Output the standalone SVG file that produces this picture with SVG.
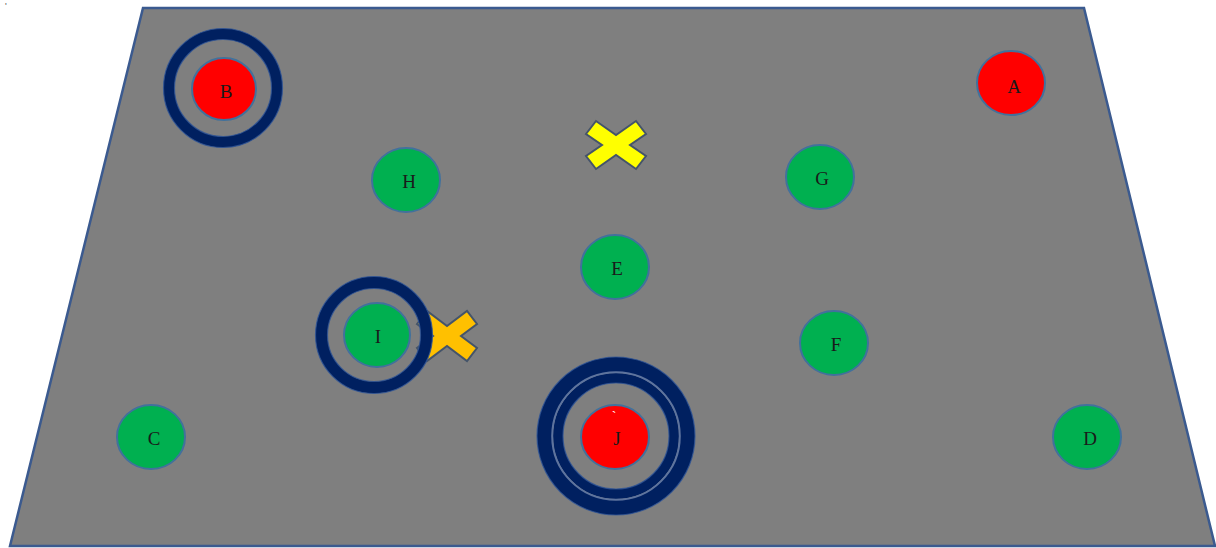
<svg xmlns="http://www.w3.org/2000/svg" width="1216" height="548" viewBox="0 0 1216 548">
<style>
.node{stroke:#41719C;stroke-width:2}
.g{fill:#00B050}
.r{fill:#FF0000}
.lbl{font-family:"Liberation Serif","Times New Roman",serif;font-size:19px;fill:#1a1a1a;text-anchor:middle}
.ring{fill:none;stroke:#002060}
.ringedge{fill:none;stroke:#2F5597;stroke-width:1.2;opacity:0.8}
.xs{stroke:#44546A;stroke-width:2;stroke-linejoin:miter}
</style>
<rect width="1216" height="548" fill="#FFFFFF"/>
<g id="field">
<polygon points="143,8 1084,8 1215,546 10,546" fill="#7F7F7F" stroke="#3B5A8F" stroke-width="2.5"/>
</g>
<text x="5" y="9" font-family="Liberation Sans, sans-serif" font-size="9" fill="#555">'</text>
<g id="marker-yellow">
<polygon class="xs" fill="#FFFF00" transform="translate(616,145)" points="-30,-11 -20,-24 0,-10 20,-24 30,-11 14,0 30,11 20,24 0,10 -20,24 -30,11 -14,0"/>
</g>
<g id="marker-orange">
<polygon class="xs" fill="#FFC000" transform="translate(447,336)" points="-30,-12 -20,-25 0,-10 20,-25 30,-12 14,0 30,12 20,25 0,10 -20,25 -30,12 -14,0"/>
</g>
<g id="node-A">
<ellipse class="node r" cx="1011" cy="83" rx="34" ry="32"/>
<text class="lbl" x="1014" y="93">A</text>
</g>
<g id="node-B">
<circle class="ring" cx="223" cy="88" r="54" stroke-width="11"/>
<circle class="ringedge" cx="223" cy="88" r="59.5"/>
<circle class="ringedge" cx="223" cy="88" r="48.5"/>
<ellipse class="node r" cx="224" cy="89" rx="32" ry="31"/>
<text class="lbl" x="226" y="98">B</text>
</g>
<g id="node-C">
<ellipse class="node g" cx="151" cy="437" rx="34" ry="32"/>
<text class="lbl" x="154" y="445">C</text>
</g>
<g id="node-D">
<ellipse class="node g" cx="1087" cy="437" rx="34" ry="32"/>
<text class="lbl" x="1090" y="445">D</text>
</g>
<g id="node-E">
<ellipse class="node g" cx="615" cy="267" rx="34" ry="32"/>
<text class="lbl" x="617" y="275">E</text>
</g>
<g id="node-F">
<ellipse class="node g" cx="834" cy="343" rx="34" ry="32"/>
<text class="lbl" x="836" y="351">F</text>
</g>
<g id="node-G">
<ellipse class="node g" cx="820" cy="177" rx="34" ry="32"/>
<text class="lbl" x="822" y="185">G</text>
</g>
<g id="node-H">
<ellipse class="node g" cx="406" cy="180" rx="34" ry="32"/>
<text class="lbl" x="409" y="188">H</text>
</g>
<g id="node-I">
<circle class="ring" cx="374" cy="335" r="52.5" stroke-width="12"/>
<circle class="ringedge" cx="374" cy="335" r="58.5"/>
<circle class="ringedge" cx="374" cy="335" r="46.5"/>
<ellipse class="node g" cx="377" cy="335" rx="33" ry="32"/>
<text class="lbl" x="378" y="343">I</text>
</g>
<g id="node-J">
<circle class="ring" cx="616" cy="436" r="71.5" stroke-width="15"/>
<circle class="ring" cx="616" cy="436" r="58" stroke-width="10"/>
<circle cx="616" cy="436" r="63.8" fill="none" stroke="#5E749E" stroke-width="2"/>
<circle class="ringedge" cx="616" cy="436" r="79"/>
<circle class="ringedge" cx="616" cy="436" r="53"/>
<ellipse class="node r" cx="615" cy="437" rx="34" ry="32"/>
<text x="614" y="421" font-family="Liberation Serif, serif" font-size="14" fill="#FFFFFF" text-anchor="middle">`</text>
<text class="lbl" x="617" y="445">J</text>
</g>
<g id="connectors"></g>
</svg>
